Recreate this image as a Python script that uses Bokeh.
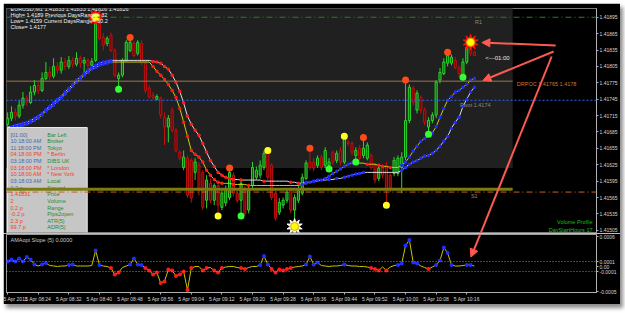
import math
from bokeh.plotting import figure
from bokeh.layouts import column
from bokeh.models import (Range1d, FixedTicker, Label, Arrow, NormalHead,
                          CustomJSTickFormatter, Span)
from bokeh.embed import file_html
from bokeh.resources import INLINE
from bokeh.core.properties import value

# ---------------- data ----------------
TIME_LABELS = ["5 Apr 2011", "5 Apr 08:24", "5 Apr 08:32", "5 Apr 08:40", "5 Apr 08:48",
               "5 Apr 08:56", "5 Apr 09:04", "5 Apr 09:12", "5 Apr 09:20", "5 Apr 09:28",
               "5 Apr 09:36", "5 Apr 09:44", "5 Apr 09:52", "5 Apr 10:00", "5 Apr 10:08",
               "5 Apr 10:16"]
TIME_TICK_BARS = [0, 8, 16, 24, 32, 40, 48, 56, 64, 72, 80, 88, 96, 104, 112, 120]

OPEN = [1.41699, 1.41710, 1.41721, 1.41714, 1.41734, 1.41747, 1.41739, 1.41758, 1.41770, 1.41761,
        1.41783, 1.41794, 1.41787, 1.41805, 1.41798, 1.41813, 1.41805, 1.41816, 1.41809, 1.41820,
        1.41811, 1.41816, 1.41807, 1.41816, 1.41884, 1.41858, 1.41847, 1.41862, 1.41834, 1.41783,
        1.41789, 1.41816, 1.41834, 1.41847, 1.41829, 1.41847, 1.41811, 1.41765, 1.41752, 1.41745,
        1.41747, 1.41712, 1.41694, 1.41725, 1.41688, 1.41648, 1.41620, 1.41637, 1.41633, 1.41611,
        1.41624, 1.41611, 1.41560, 1.41591, 1.41560, 1.41587, 1.41547, 1.41555, 1.41565, 1.41606,
        1.41573, 1.41560, 1.41578, 1.41542, 1.41587, 1.41602, 1.41606, 1.41620, 1.41646, 1.41624,
        1.41573, 1.41538, 1.41551, 1.41560, 1.41578, 1.41542, 1.41560, 1.41573, 1.41600, 1.41630,
        1.41630, 1.41624, 1.41639, 1.41624, 1.41624, 1.41648, 1.41633, 1.41651, 1.41630, 1.41666,
        1.41664, 1.41642, 1.41655, 1.41642, 1.41637, 1.41642, 1.41624, 1.41600, 1.41620, 1.41624,
        1.41606, 1.41609, 1.41609, 1.41620, 1.41639, 1.41706, 1.41765, 1.41725, 1.41748, 1.41725,
        1.41694, 1.41706, 1.41716, 1.41780, 1.41792, 1.41811, 1.41811, 1.41816, 1.41802, 1.41789,
        1.41813, 1.41842, 1.41831]
HIGH = [1.41721, 1.41732, 1.41728, 1.41743, 1.41758, 1.41752, 1.41769, 1.41780, 1.41776, 1.41794,
        1.41813, 1.41805, 1.41820, 1.41813, 1.41822, 1.41820, 1.41824, 1.41822, 1.41831, 1.41825,
        1.41822, 1.41820, 1.41820, 1.41895, 1.41889, 1.41866, 1.41860, 1.41867, 1.41838, 1.41794,
        1.41820, 1.41853, 1.41858, 1.41851, 1.41853, 1.41853, 1.41816, 1.41770, 1.41758, 1.41754,
        1.41750, 1.41721, 1.41716, 1.41730, 1.41692, 1.41651, 1.41651, 1.41642, 1.41637, 1.41637,
        1.41630, 1.41615, 1.41606, 1.41600, 1.41591, 1.41593, 1.41578, 1.41587, 1.41619, 1.41611,
        1.41578, 1.41600, 1.41586, 1.41587, 1.41630, 1.41622, 1.41633, 1.41651, 1.41651, 1.41628,
        1.41578, 1.41564, 1.41565, 1.41582, 1.41584, 1.41571, 1.41586, 1.41609, 1.41633, 1.41655,
        1.41637, 1.41642, 1.41644, 1.41657, 1.41637, 1.41651, 1.41651, 1.41657, 1.41677, 1.41670,
        1.41668, 1.41657, 1.41661, 1.41675, 1.41666, 1.41646, 1.41628, 1.41624, 1.41626, 1.41630,
        1.41611, 1.41639, 1.41642, 1.41648, 1.41780, 1.41772, 1.41770, 1.41761, 1.41752, 1.41730,
        1.41712, 1.41721, 1.41780, 1.41802, 1.41820, 1.41831, 1.41827, 1.41822, 1.41807, 1.41820,
        1.41845, 1.41849, 1.41834]
LOW = [1.41692, 1.41705, 1.41706, 1.41710, 1.41728, 1.41732, 1.41736, 1.41752, 1.41754, 1.41758,
       1.41780, 1.41780, 1.41783, 1.41791, 1.41792, 1.41798, 1.41800, 1.41803, 1.41805, 1.41802,
       1.41794, 1.41792, 1.41802, 1.41813, 1.41853, 1.41834, 1.41842, 1.41831, 1.41785, 1.41763,
       1.41785, 1.41813, 1.41831, 1.41822, 1.41825, 1.41807, 1.41756, 1.41745, 1.41743, 1.41743,
       1.41710, 1.41661, 1.41666, 1.41684, 1.41648, 1.41633, 1.41615, 1.41564, 1.41556, 1.41597,
       1.41569, 1.41542, 1.41545, 1.41555, 1.41551, 1.41531, 1.41542, 1.41549, 1.41560, 1.41567,
       1.41555, 1.41531, 1.41531, 1.41536, 1.41582, 1.41597, 1.41600, 1.41615, 1.41597, 1.41560,
       1.41523, 1.41533, 1.41545, 1.41555, 1.41536, 1.41512, 1.41555, 1.41569, 1.41597, 1.41615,
       1.41613, 1.41619, 1.41615, 1.41619, 1.41617, 1.41624, 1.41628, 1.41624, 1.41626, 1.41659,
       1.41642, 1.41630, 1.41633, 1.41637, 1.41633, 1.41615, 1.41591, 1.41595, 1.41600, 1.41551,
       1.41575, 1.41604, 1.41604, 1.41573, 1.41633, 1.41701, 1.41734, 1.41719, 1.41719, 1.41697,
       1.41681, 1.41701, 1.41710, 1.41774, 1.41789, 1.41805, 1.41807, 1.41800, 1.41787, 1.41785,
       1.41809, 1.41824, 1.41824]
CLOSE = [1.41710, 1.41721, 1.41714, 1.41734, 1.41747, 1.41739, 1.41758, 1.41770, 1.41761, 1.41783,
         1.41794, 1.41787, 1.41805, 1.41798, 1.41813, 1.41805, 1.41816, 1.41809, 1.41820, 1.41811,
         1.41816, 1.41807, 1.41814, 1.41884, 1.41856, 1.41844, 1.41856, 1.41834, 1.41789, 1.41789,
         1.41816, 1.41849, 1.41849, 1.41825, 1.41849, 1.41813, 1.41761, 1.41750, 1.41748, 1.41750,
         1.41716, 1.41694, 1.41710, 1.41688, 1.41651, 1.41637, 1.41639, 1.41569, 1.41564, 1.41630,
         1.41578, 1.41547, 1.41597, 1.41560, 1.41587, 1.41551, 1.41573, 1.41578, 1.41611, 1.41573,
         1.41560, 1.41591, 1.41536, 1.41578, 1.41620, 1.41615, 1.41624, 1.41646, 1.41602, 1.41565,
         1.41527, 1.41556, 1.41560, 1.41575, 1.41542, 1.41565, 1.41578, 1.41602, 1.41628, 1.41620,
         1.41619, 1.41637, 1.41620, 1.41651, 1.41630, 1.41630, 1.41646, 1.41630, 1.41673, 1.41664,
         1.41648, 1.41651, 1.41637, 1.41655, 1.41661, 1.41620, 1.41597, 1.41619, 1.41606, 1.41578,
         1.41582, 1.41633, 1.41637, 1.41639, 1.41706, 1.41767, 1.41739, 1.41756, 1.41725, 1.41703,
         1.41706, 1.41716, 1.41776, 1.41794, 1.41813, 1.41825, 1.41822, 1.41803, 1.41792, 1.41813,
         1.41840, 1.41829, 1.41825]

MA_WHITE = [1.41694, 1.41695, 1.41697, 1.41699, 1.41701, 1.41703, 1.41706, 1.41710, 1.41714, 1.41719,
            1.41726, 1.41732, 1.41738, 1.41745, 1.41750, 1.41758, 1.41765, 1.41772, 1.41780, 1.41785,
            1.41792, 1.41798, 1.41803, 1.41807, 1.41811, 1.41813, 1.41814, 1.41816,
            1.41816, 1.41816, 1.41816, 1.41816, 1.41816, 1.41816, 1.41816, 1.41816, 1.41816, 1.41816,
            1.41814, 1.41813, 1.41811, 1.41805, 1.41800, 1.41789, 1.41776, 1.41759, 1.41738, 1.41714,
            1.41699, 1.41688, 1.41679, 1.41664, 1.41648, 1.41633, 1.41622, 1.41611, 1.41606, 1.41602,
            1.41600, 1.41598, 1.41598, 1.41597, 1.41597,
            1.41597, 1.41597, 1.41597, 1.41597,
            1.41595, 1.41595, 1.41595, 1.41595, 1.41595, 1.41595, 1.41595,
            1.41593, 1.41593, 1.41591, 1.41591, 1.41593, 1.41593, 1.41595, 1.41595, 1.41597, 1.41597,
            1.41598, 1.41598, 1.41600, 1.41600, 1.41602, 1.41604, 1.41606, 1.41608, 1.41609, 1.41611,
            1.41611, 1.41611, 1.41611, 1.41611, 1.41611, 1.41611, 1.41611, 1.41611, 1.41611,
            1.41615, 1.41620, 1.41626, 1.41630, 1.41633, 1.41637, 1.41641, 1.41642, 1.41646, 1.41651,
            1.41659, 1.41668, 1.41677, 1.41692, 1.41703, 1.41712, 1.41732, 1.41745, 1.41758, 1.41767]
MA_YELLOW = [1.41690, 1.41692, 1.41694, 1.41695, 1.41697, 1.41699, 1.41703, 1.41706, 1.41710, 1.41716,
             1.41723, 1.41728, 1.41734, 1.41741, 1.41747, 1.41754, 1.41761, 1.41769, 1.41776, 1.41781,
             1.41789, 1.41794, 1.41800,
             1.41803, 1.41807, 1.41809, 1.41811,
             1.41813, 1.41813, 1.41813, 1.41813, 1.41813, 1.41813, 1.41813, 1.41813, 1.41813, 1.41813,
             1.41813,
             1.41805, 1.41796, 1.41789, 1.41781, 1.41772, 1.41761, 1.41748, 1.41728, 1.41703, 1.41677,
             1.41651, 1.41644, 1.41639, 1.41630, 1.41615, 1.41606, 1.41598, 1.41593,
             1.41591, 1.41591, 1.41591,
             1.41589, 1.41589, 1.41589, 1.41589,
             1.41587, 1.41587, 1.41587, 1.41587, 1.41587, 1.41587, 1.41587, 1.41587, 1.41587, 1.41587,
             1.41587, 1.41587,
             1.41587, 1.41587,
             1.41589, 1.41591, 1.41593, 1.41595, 1.41597, 1.41597, 1.41600, 1.41604, 1.41609, 1.41613,
             1.41617, 1.41622, 1.41626, 1.41628, 1.41628, 1.41628, 1.41628,
             1.41626, 1.41626, 1.41626,
             1.41624, 1.41622, 1.41622,
             1.41620, 1.41620, 1.41620,
             1.41624, 1.41630, 1.41639, 1.41650, 1.41659, 1.41668, 1.41673, 1.41679, 1.41683, 1.41695,
             1.41712, 1.41728, 1.41743, 1.41750, 1.41758, 1.41761, 1.41767, 1.41772, 1.41780, 1.41783]

# AMAopt Slope (5) sub-window values
SLOPE = [1.0e-4, 1.4e-4, 1.0e-4, 1.6e-4, 1.0e-4, 1.9e-4, 1.4e-4, 0.4e-4, 0.1e-4, 0.4e-4,
         0.7e-4, 0.2e-4, 0.1e-4, 0.0, 0.1e-4, 0.1e-4, 0.3e-4, 0.4e-4, 0.1e-4, 0.1e-4,
         0.1e-4, 0.1e-4, 0.2e-4, 3.2e-4, 0.3e-4, 0.1e-4, 0.0, -0.3e-4, -1.6e-4, -1.2e-4,
         -0.2e-4, 0.1e-4, 0.4e-4, 1.6e-4, 0.4e-4, 0.3e-4, -0.3e-4, -0.8e-4, -1.6e-4, -1.2e-4,
         -3.3e-4, -3.0e-4, -0.6e-4, -0.8e-4, -1.9e-4, -1.6e-4, -1.0e-4, -4.7e-4, -0.3e-4, 0.0,
         0.0, -0.8e-4, -0.3e-4, -0.2e-4, -0.8e-4, -1.2e-4, -0.3e-4, -0.1e-4, 0.0, 0.0,
         -0.2e-4, -0.3e-4, -0.5e-4, -0.2e-4, 0.0, 0.0, 0.3e-4, 2.1e-4, 0.4e-4, -0.5e-4,
         -1.2e-4, -0.6e-4, -0.8e-4, -0.5e-4, -0.3e-4, -0.1e-4, 0.0, 0.1e-4, 0.4e-4, 2.0e-4,
         0.4e-4, 0.8e-4, 0.2e-4, 0.1e-4, 0.0, 0.1e-4, 0.1e-4, 0.2e-4, 0.4e-4, 0.2e-4,
         0.1e-4, 0.1e-4, 0.0, 0.0, -0.1e-4, -0.3e-4, -0.5e-4, -0.8e-4, -0.1e-4, -0.8e-4,
         -0.1e-4, 0.2e-4, 0.3e-4, 0.6e-4, 4.2e-4, 5.3e-4, 0.8e-4, 0.6e-4, 0.1e-4, -0.2e-4,
         -0.5e-4, -0.1e-4, 0.3e-4, 1.2e-4, 3.8e-4, 2.7e-4, 0.3e-4, 0.1e-4, 0.1e-4, 0.2e-4,
         0.3e-4, 0.3e-4, 0.1e-4]

# swing markers (bar indices)
HI_RED = [32, 58, 79, 93, 104, 115]
HI_YELLOW = [68, 88]
LO_YELLOW = [55, 99]
LO_GREEN = [29, 61, 84, 91, 110, 119]
SUN_HI = [23, 121]
SUN_LO = [75]

PRICE_TICKS = [1.41505, 1.41535, 1.41565, 1.41595, 1.41625, 1.41655, 1.41685,
               1.41715, 1.41745, 1.41775, 1.41805, 1.41835, 1.41865, 1.41895]
SLOPE_TICKS = [0.0006, 0.0001, 0.0, -0.0001, -0.0005]
SLOPE_LEVELS = [0.0001, -0.0001]

R1 = 1.41895
DRPOC = 1.41778
PIVOT = 1.41743
S1 = 1.41580
DAY_LOW = 1.41575
BID = 1.41826
BOX_END_BAR = 132
BOX_LOW = 1.41619

HEADER = ["EURUSD,M1  1.41833 1.41833 1.41826 1.41826",
          "High= 1.4189 Previous DaysRange= 32",
          "Low= 1.4159 Current DaysRange= 30.2",
          "Close= 1.4177"]
TABLE_LEFT = ["[01:00]", "10:18:00 AM", "11:18:00 PM", "04:18:00 PM", "03:18:00 PM",
              "03:18:00 PM", "10:18:00 AM", "03:18:03 AM", "1.2 p", "1.41831", "2",
              "0.2 p", "-0.2 p", "2.3 p", "99.7 p"]
TABLE_RIGHT = ["Bar Left", "Broker", "Tokyo", "* Berlin", "DIBS UK", "* London",
               "* New York", "Local", "Spread", "Price", "Volume", "Range", "Pips2open",
               "ATR(5)", "ADR(5)"]
TABLE_KIND = ["b", "b", "b", "r", "b", "r", "r", "b", "b", "v", "v", "v", "v", "v", "v"]

# ---------------- layout / style ----------------
FONT = "Liberation Sans"
N = len(CLOSE)
PX_PER_BAR = 3.839
W = 617
MAIN_H, IND_H = 230, 71
B_LEFT, B_RIGHT = 3, 22
X0 = -0.3
X1 = X0 + (W - B_LEFT - B_RIGHT) / PX_PER_BAR
Y_MAIN = (1.41501, 1.41911)
Y_IND = (-0.00052, 0.00064)

# page pixel helpers (for annotations / overlays only)
def bx(px):
    return X0 + (px - 6) / PX_PER_BAR

def py(px):
    return Y_MAIN[1] - (px - 8) * (Y_MAIN[1] - Y_MAIN[0]) / 224.0

def iy(px):
    return Y_IND[1] - (px - 234) * (Y_IND[1] - Y_IND[0]) / 59.0

BULL_LINE, BULL_FILL = "#2bd62b", "#0d5e0d"
BEAR_LINE, BEAR_FILL = "#c01010", "#6a0000"
AXIS_TXT = "#d8d8d8"
ARROW_C = "#ff5a50"

p = figure(width=W, height=MAIN_H, x_range=Range1d(X0, X1), y_range=Range1d(*Y_MAIN),
           x_axis_location=None, y_axis_location="right", toolbar_location=None,
           output_backend="svg", min_border_left=B_LEFT, min_border_right=B_RIGHT,
           min_border_top=5, min_border_bottom=1, background_fill_color="black",
           border_fill_color="black", outline_line_color="#7a7a7a")
p.grid.visible = False
ya = p.yaxis[0]
ya.ticker = FixedTicker(ticks=PRICE_TICKS)
ya.formatter = CustomJSTickFormatter(code="return tick.toFixed(5);")
ya.major_label_text_font_size = "5px"
ya.major_label_text_font = FONT
ya.major_label_text_color = AXIS_TXT
ya.axis_line_color = "#b0b0b0"
ya.major_tick_line_color = "#b0b0b0"
ya.major_tick_out = 2
ya.major_tick_in = 0
ya.minor_tick_out = 0
ya.minor_tick_in = 0
ya.major_label_standoff = 1

# session shading
p.quad(left=[X0 - 1], right=[BOX_END_BAR], bottom=[BOX_LOW], top=[Y_MAIN[1] + 0.001],
       fill_color="#202020", line_color=None)

# candles
xs = list(range(N))
for want_up, lc, fc in ((True, BULL_LINE, BULL_FILL), (False, BEAR_LINE, BEAR_FILL)):
    idx = [i for i in xs if (CLOSE[i] >= OPEN[i]) == want_up]
    hi = [HIGH[i] for i in idx]
    lo = [LOW[i] for i in idx]
    top = [max(OPEN[i], CLOSE[i]) for i in idx]
    bot = [min(OPEN[i], CLOSE[i]) for i in idx]
    p.segment(x0=idx, y0=hi, x1=idx, y1=lo, line_color=lc, line_width=1)
    p.vbar(x=idx, width=0.55, top=top, bottom=bot, fill_color=fc, line_color=lc, line_width=1)

# moving averages with slope dots
def slope_dots(vals):
    ux, uy, dx, dy = [], [], [], []
    for i in range(1, len(vals)):
        d = vals[i] - vals[i - 1]
        if d > 5e-7:
            ux.append(i); uy.append(vals[i])
        elif d < -5e-7:
            dx.append(i); dy.append(vals[i])
    return ux, uy, dx, dy

for vals, col in ((MA_WHITE, "#dcdcdc"), (MA_YELLOW, "#d0cc00")):
    p.line(xs, vals, line_color=col, line_width=1)
for vals in (MA_WHITE, MA_YELLOW):
    ux, uy, dx, dy = slope_dots(vals)
    p.scatter(ux, uy, size=3.5, fill_color="#1e2cff", line_color=None)
    p.scatter(dx, dy, size=3.5, fill_color="#ff1a1a", line_color=None)

# info table
p.quad(left=[bx(7)], right=[bx(87)], top=[py(127)], bottom=[Y_MAIN[0] - 0.001],
       fill_color="#c6c6c6", line_color="#e8e8e8")
col_map = {"b": ("#3a6cb0", "#2c8a2c"), "r": ("#f0421c", "#f0421c"), "v": ("#f0421c", "#2c8a2c")}
row_y = [py(134 + 6.64 * k) for k in range(len(TABLE_LEFT))]
p.text(x=[bx(10)] * len(TABLE_LEFT), y=row_y, text=TABLE_LEFT,
       text_color=[col_map[k][0] for k in TABLE_KIND], text_font=value(FONT),
       text_font_size="5.5px", text_baseline="middle")
p.text(x=[bx(47)] * len(TABLE_RIGHT), y=row_y, text=TABLE_RIGHT,
       text_color=[col_map[k][1] for k in TABLE_KIND], text_font=value(FONT),
       text_font_size="5.5px", text_baseline="middle")

# horizontal levels
p.segment(x0=[X0 - 1], x1=[BOX_END_BAR], y0=[DRPOC], y1=[DRPOC], line_color="#9c7650", line_width=1)
p.segment(x0=[X0 - 1], x1=[BOX_END_BAR], y0=[S1], y1=[S1], line_color="#7c7a12", line_width=3)
p.add_layout(Span(location=R1, dimension="width", line_color="#2f7a2f", line_dash="6 3 1 3", line_width=1))
p.add_layout(Span(location=PIVOT, dimension="width", line_color="#2a66ff", line_dash="2 2", line_width=1))
p.add_layout(Span(location=DAY_LOW, dimension="width", line_color="#c8602a", line_dash="6 3 1 3", line_width=1))

# swing markers
p.scatter(HI_RED, [HIGH[i] for i in HI_RED], size=7, fill_color="#ff4a1a", line_color=None)
p.scatter(HI_YELLOW, [HIGH[i] for i in HI_YELLOW], size=7, fill_color="#ffff20", line_color=None)
p.scatter(LO_YELLOW, [LOW[i] for i in LO_YELLOW], size=7, fill_color="#ffff20", line_color=None)
p.scatter(LO_GREEN, [LOW[i] for i in LO_GREEN], size=7, fill_color="#33ff33", line_color=None)
for idx, yv, ray in ((SUN_HI, [HIGH[i] for i in SUN_HI], "#ff1010"),
                     (SUN_LO, [LOW[i] for i in SUN_LO], "#ffffff")):
    for ang in (0.0, math.pi / 5):
        p.scatter(idx, yv, marker="star", size=16, angle=ang, fill_color=ray, line_color=ray)
    p.scatter(idx, yv, size=8, fill_color="#ffff00", line_color="#e0a000")

# texts in chart
def lab(fig, x, y, text, color, size="5.5px", align="left", base="middle", **kw):
    fig.add_layout(Label(x=x, y=y, text=text, text_color=color, text_font_size=size,
                         text_font=FONT, text_align=align, text_baseline=base, **kw))

for k, t in enumerate(HEADER):
    lab(p, bx(10), py(8 + 6 * k), t, "#f0f0f0")
lab(p, bx(476), py(21), "R1", "#8a8a8a")
lab(p, bx(461), py(104), "Pivot 1.4174", "#8a8a8a")
lab(p, bx(472), py(195), "S1", "#8a8a8a")
lab(p, bx(518), DRPOC - 0.00006, "DRPOC 1.41765 1.4178", "#d07a28")
lab(p, N + 1.8, BID - 0.00006, "<---01:00", "#e6e6e6", size="6px")
lab(p, bx(594), py(221), "Volume Profile", "#10c010", align="right")
lab(p, bx(594), py(229), "DayStartHours 17", "#10c010", align="right")

# price boxes on the axis
for yv, bg, fg in ((R1, "#1f8a1f", "#ffffff"), (BID, "#ffffff", "#000000"),
                   (PIVOT, "#1e5cff", "#ffffff"), (DAY_LOW, "#c8602a", "#000000")):
    lab(p, bx(600), yv, "%.5f" % yv, fg, size="5px", background_fill_color=bg)

# red arrows
head = dict(size=8, fill_color=ARROW_C, line_color=ARROW_C)
p.add_layout(Arrow(end=NormalHead(**head), x_start=bx(557), y_start=py(45), x_end=bx(483), y_end=py(42),
                   line_color=ARROW_C, line_width=2))
p.add_layout(Arrow(end=NormalHead(**head), x_start=bx(555), y_start=py(51), x_end=bx(484), y_end=py(80),
                   line_color=ARROW_C, line_width=2))
p.add_layout(Arrow(end=None, x_start=bx(553), y_start=py(56), x_end=bx(472), y_end=py(257),
                   line_color=ARROW_C, line_width=2))

# ---------------- indicator panel ----------------
q = figure(width=W, height=IND_H, x_range=p.x_range, y_range=Range1d(*Y_IND),
           y_axis_location="right", toolbar_location=None, output_backend="svg",
           min_border_left=B_LEFT, min_border_right=B_RIGHT, min_border_top=1,
           min_border_bottom=11, background_fill_color="black", border_fill_color="black",
           outline_line_color="#9a9a9a")
q.grid.visible = False
qa = q.yaxis[0]
qa.ticker = FixedTicker(ticks=SLOPE_TICKS)
qa.formatter = CustomJSTickFormatter(code="return Math.abs(tick) < 1e-12 ? '0.00' : tick.toFixed(4);")
qx = q.xaxis[0]
qx.ticker = FixedTicker(ticks=TIME_TICK_BARS)
qx.major_label_overrides = {b: t for b, t in zip(TIME_TICK_BARS, TIME_LABELS)}
qx.major_label_text_align = "left"
for ax in (qa, qx):
    ax.major_label_text_font_size = "5px"
    ax.major_label_text_font = FONT
    ax.major_label_text_color = AXIS_TXT
    ax.axis_line_color = "#b0b0b0"
    ax.major_tick_line_color = "#b0b0b0"
    ax.major_tick_out = 2
    ax.major_tick_in = 0
    ax.minor_tick_out = 0
    ax.minor_tick_in = 0
    ax.major_label_standoff = 1

for lv in SLOPE_LEVELS:
    q.add_layout(Span(location=lv, dimension="width", line_color="#8a8a8a", line_dash="1 2", line_width=1))
q.line(xs, SLOPE, line_color="#c8c400", line_width=1)
ub = [i for i in xs if SLOPE[i] >= 0.25e-4]
rb = [i for i in xs if SLOPE[i] <= -0.25e-4]
q.scatter(ub, [SLOPE[i] for i in ub], size=4, fill_color="#1e2cff", line_color=None)
q.scatter(rb, [SLOPE[i] for i in rb], size=4, fill_color="#ff1a1a", line_color=None)
lab(q, bx(10), iy(240), "AMAopt Slope (5) 0.0000", "#c8c8c8")
q.add_layout(Arrow(end=NormalHead(**head), x_start=bx(553), y_start=iy(56), x_end=bx(472), y_end=iy(257),
                   line_color=ARROW_C, line_width=2))

layout = column(p, q, margin=(3, 0, 0, 3),
                styles={"box-shadow": "3px 4px 4px rgba(0,0,0,0.45)"})
open("out.html", "w").write(file_html(layout, INLINE))
